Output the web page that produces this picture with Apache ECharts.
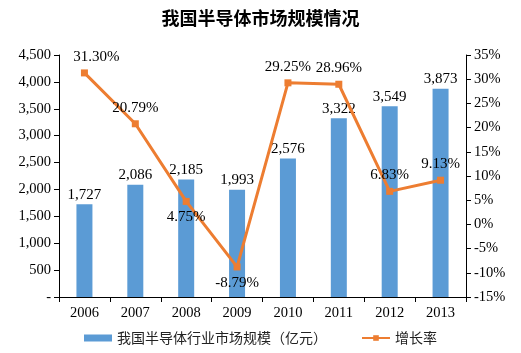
<!DOCTYPE html>
<html>
<head>
<meta charset="utf-8">
<script src="https://cdn.jsdelivr.net/npm/echarts@6/dist/echarts.min.js"></script>
<style>
  html, body { margin: 0; padding: 0; background: #fff; }
  #main { width: 521px; height: 353px; }
</style>
</head>
<body>
<div id="main"></div>
<script>
  var years = ['2006', '2007', '2008', '2009', '2010', '2011', '2012', '2013'];
  var marketSize = [1727, 2086, 2185, 1993, 2576, 3322, 3549, 3873];
  var growthRate = [31.30, 20.79, 4.75, -8.79, 29.25, 28.96, 6.83, 9.13];
  var growthLabelPos = ['top', 'top', 'bottom', 'bottom', 'top', 'top', 'top', 'top'];

  var serif = '"Liberation Serif", "Times New Roman", serif';
  var axisColor = '#000';

  function fmtNum(v) {
    if (v === 0) return '-';
    return String(v).replace(/\B(?=(\d{3})+(?!\d))/g, ',');
  }

  var myChart = echarts.init(document.getElementById('main'));

  var option = {
    backgroundColor: '#ffffff',
    animation: false,
    title: {
      text: '我国半导体市场规模情况',
      left: 'center',
      top: 4,
      textStyle: {
        fontFamily: '"Noto Sans CJK SC", sans-serif',
        fontSize: 18,
        fontWeight: 'bold',
        color: '#000'
      }
    },
    legend: {
      bottom: 3,
      left: 'center',
      itemGap: 34,
      itemWidth: 28,
      itemHeight: 7,
      textStyle: {
        fontFamily: '"Noto Sans CJK SC", sans-serif',
        fontSize: 14,
        color: '#222'
      },
      data: [
        { name: '我国半导体行业市场规模（亿元）', icon: 'rect' },
        { name: '增长率' }
      ]
    },
    grid: {
      left: 59,
      right: 55,
      top: 55,
      bottom: 56
    },
    xAxis: {
      type: 'category',
      data: years,
      axisLine: { lineStyle: { color: axisColor } },
      axisTick: { show: true, alignWithLabel: false, lineStyle: { color: axisColor } },
      axisLabel: { fontFamily: serif, fontSize: 14.5, color: '#000', margin: 9 }
    },
    yAxis: [
      {
        type: 'value',
        min: 0,
        max: 4500,
        interval: 500,
        splitLine: { show: false },
        axisLine: { show: true, lineStyle: { color: axisColor } },
        axisTick: { show: true, lineStyle: { color: axisColor } },
        axisLabel: {
          fontFamily: serif, fontSize: 14.5, color: '#000',
          formatter: fmtNum
        }
      },
      {
        type: 'value',
        min: -15,
        max: 35,
        interval: 5,
        splitLine: { show: false },
        axisLine: { show: true, lineStyle: { color: axisColor } },
        axisTick: { show: true, lineStyle: { color: axisColor } },
        axisLabel: {
          fontFamily: serif, fontSize: 14.5, color: '#000',
          formatter: '{value}%'
        }
      }
    ],
    series: [
      {
        name: '我国半导体行业市场规模（亿元）',
        type: 'bar',
        barWidth: 16,
        itemStyle: { color: '#5B9BD5' },
        label: {
          show: true,
          position: 'top',
          distance: 2,
          fontFamily: serif,
          fontSize: 15,
          color: '#000',
          formatter: function (p) { return fmtNum(p.value); }
        },
        data: marketSize
      },
      {
        name: '增长率',
        type: 'line',
        yAxisIndex: 1,
        symbol: 'rect',
        symbolSize: 7,
        lineStyle: { color: '#ED7D31', width: 3 },
        itemStyle: { color: '#ED7D31' },
        z: 5,
        data: growthRate.map(function (v, i) {
          return {
            value: v,
            label: {
              show: true,
              position: growthLabelPos[i],
              distance: 5,
              offset: i === 0 ? [12, 0] : [0, 0],
              fontFamily: serif,
              fontSize: 15,
              color: '#000',
              formatter: function (p) { return p.value.toFixed(2) + '%'; }
            }
          };
        })
      }
    ]
  };

  myChart.setOption(option);
</script>
</body>
</html>
